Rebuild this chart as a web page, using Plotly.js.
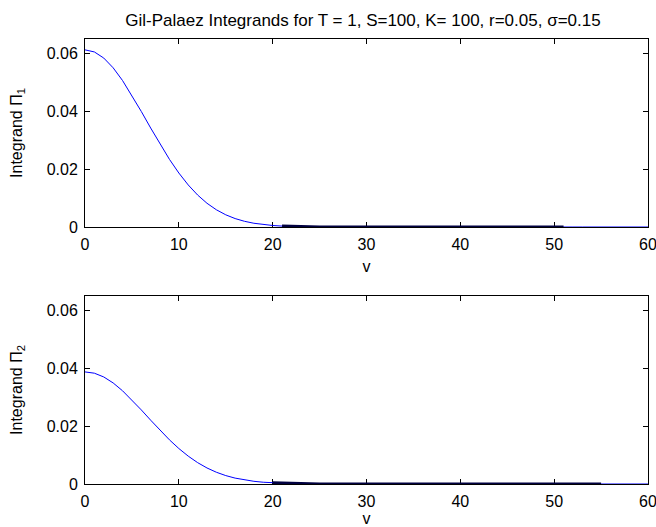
<!DOCTYPE html>
<html>
<head>
<meta charset="utf-8">
<script src="https://cdn.plot.ly/plotly-3.0.1.min.js"></script>
<style>html,body{margin:0;padding:0;background:#fff;}#chart{width:656px;height:527px;}</style>
</head>
<body>
<div id="chart"></div>
<script>
// Frequency grid v and the two Gil-Palaez integrands (read per unit step)
var v = [0,1,2,3,4,5,6,7,8,9,10,11,12,13,14,15,16,17,18,19,20,
         21,22,23,24,25,26,27,28,29,30,31,32,33,34,35,36,37,38,39,40,
         41,42,43,44,45,46,47,48,49,50,51,52,53,54,55,56,57,58,59,60];

var integrandPi1 = [0.06125,0.060527,0.058409,0.055041,0.050650,0.045514,0.039940,0.034223,0.028635,0.023397,0.018666,
  0.014540,0.011059,0.008213,0.005955,0.004216,0.002915,0.001966,0.001295,0.000833,0.000523,
  0.000320,0.000191,0.000112,0.0000636,0.0000353,0.0000191,0.0000101,0.0000052,0.0000026,0.0000013,
  0,0,0,0,0,0,0,0,0,0, 0,0,0,0,0,0,0,0,0,0, 0,0,0,0,0,0,0,0,0,0];

var integrandPi2 = [0.03875,0.038307,0.037008,0.034940,0.032237,0.029067,0.025613,0.022056,0.018561,0.015265,0.012269,
  0.009635,0.007395,0.005547,0.004066,0.002912,0.002038,0.001395,0.000932,0.000609,0.000389,
  0.000242,0.000148,0.0000880,0.0000512,0.0000291,0.0000162,0.0000088,0.0000046,0.0000024,0.0000012,
  0,0,0,0,0,0,0,0,0,0, 0,0,0,0,0,0,0,0,0,0, 0,0,0,0,0,0,0,0,0,0];

// Stretch of the tail where the curve sits on the axis (v range per panel)
var tailRangePi1 = [21, 51];
var tailRangePi2 = [20, 55];

var xTicks = [0,10,20,30,40,50,60];
var yTicks = [0,0.02,0.04,0.06];
var yTickText = ['0','0.02','0.04','0.06'];

function tail(range, ys) {
  var tx = [], ty = [];
  for (var i = 0; i < v.length; i++) {
    if (v[i] >= range[0] && v[i] <= range[1]) { tx.push(v[i]); ty.push(ys[i]); }
  }
  return {tx: tx, ty: ty};
}
var t1 = tail(tailRangePi1, integrandPi1);
var t2 = tail(tailRangePi2, integrandPi2);

var lineBlue = {color: '#0000ff', width: 1};
var lineDark = {color: '#000040', width: 3};

function curve(x, y, line, xa, ya) {
  return {x: x, y: y, type: 'scatter', mode: 'lines', line: line,
          xaxis: xa, yaxis: ya, cliponaxis: false, hoverinfo: 'skip'};
}

var traces = [
  curve(v, integrandPi1, lineBlue, 'x', 'y'),
  curve(t1.tx, t1.ty, lineDark, 'x', 'y'),
  curve(v, integrandPi2, lineBlue, 'x2', 'y2'),
  curve(t2.tx, t2.ty, lineDark, 'x2', 'y2')
];

var font = {family: '"Liberation Sans", Arial, sans-serif', size: 16, color: '#000'};
var titleFont = {family: '"Liberation Sans", Arial, sans-serif', size: 17, color: '#000'};

function xAxis(anchor) {
  return {
    domain: [85/656, 648/656], anchor: anchor, range: [0, 60],
    tickmode: 'array', tickvals: xTicks, ticks: 'inside', ticklen: 5, tickcolor: '#000',
    showline: true, linecolor: '#000', linewidth: 1, mirror: 'ticks',
    showgrid: false, zeroline: false, fixedrange: true, layer: 'below traces',
    tickfont: font, ticklabelstandoff: 3, ticklabeloverflow: 'allow',
    title: {text: 'v', font: font, standoff: 8}
  };
}
function yAxis(domain, anchor, label) {
  return {
    domain: domain, anchor: anchor, range: [0, 0.065],
    tickmode: 'array', tickvals: yTicks, ticktext: yTickText, ticks: 'inside', ticklen: 5, tickcolor: '#000',
    showline: true, linecolor: '#000', linewidth: 1, mirror: 'ticks',
    showgrid: false, zeroline: false, fixedrange: true, layer: 'below traces',
    tickfont: font, ticklabelstandoff: 3, ticklabeloverflow: 'allow',
    title: {text: label, font: font, standoff: 20}
  };
}

var layout = {
  width: 656, height: 527,
  margin: {l: 0, r: 0, t: 0, b: 0},
  paper_bgcolor: '#fff', plot_bgcolor: '#fff',
  showlegend: false,
  font: font,
  title: {
    text: 'Gil-Palaez Integrands for T = 1, S=100, K= 100, r=0.05, σ=0.15',
    font: titleFont, x: 363/656, xanchor: 'center', y: 1 - 20/527, yanchor: 'middle'
  },
  xaxis: xAxis('y'),
  yaxis: yAxis([(527-227)/527, (527-39)/527], 'x', 'Integrand Π<sub>1</sub>'),
  xaxis2: xAxis('y2'),
  yaxis2: yAxis([(527-484)/527, (527-296)/527], 'x2', 'Integrand Π<sub>2</sub>')
};

Plotly.newPlot('chart', traces, layout, {displayModeBar: false, staticPlot: true});
</script>
</body>
</html>
